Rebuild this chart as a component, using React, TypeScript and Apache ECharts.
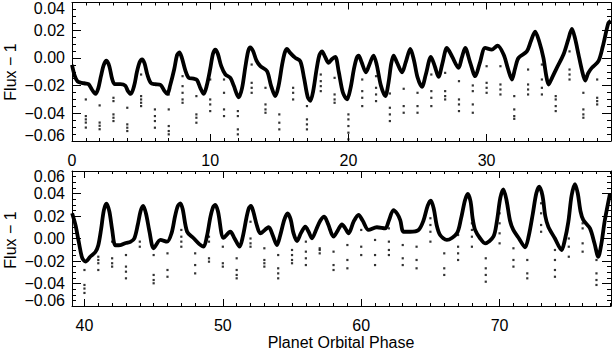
import React, { useEffect, useRef } from "react";
import * as echarts from "echarts";

// ---- Data ----
const topPhase = [0.0, 0.2, 0.4, 0.7, 1.0, 1.2, 1.45, 1.7, 1.9, 2.1, 2.3, 2.5, 2.7, 2.9, 3.1, 3.5, 3.85, 4.05, 4.25, 4.5, 4.7, 4.9, 5.07, 5.25, 5.45, 5.7, 6.0, 6.4, 6.7, 6.9, 7.1, 7.4, 7.6, 7.77, 7.95, 8.2, 8.45, 8.8, 9.05, 9.3, 9.53, 9.75, 10.0, 10.2, 10.37, 10.55, 10.8, 11.1, 11.46, 11.7, 12.06, 12.3, 12.55, 12.75, 12.9, 13.1, 13.35, 13.63, 14.11, 14.4, 14.71, 14.95, 15.2, 15.4, 15.56, 15.75, 16.16, 16.52, 16.8, 17.05, 17.24, 17.45, 17.7, 17.9, 18.09, 18.3, 18.57, 18.8, 19.05, 19.3, 19.6, 19.9, 20.15, 20.4, 20.6, 20.74, 20.95, 21.27, 21.55, 21.82, 22.05, 22.35, 22.67, 22.9, 23.1, 23.27, 23.5, 23.88, 24.15, 24.48, 24.75, 25.0, 25.32, 25.6, 25.97, 26.25, 26.52, 26.8, 27.13, 27.5, 27.97, 28.2, 28.45, 28.8, 29.18, 29.5, 29.9, 30.38, 30.79, 31.23, 31.55, 31.83, 32.05, 32.31, 32.91, 33.2, 33.51, 33.8, 34.11, 34.3, 34.48, 34.75, 35.08, 35.56, 35.9, 36.17, 36.4, 36.65, 36.9, 37.13, 37.35, 37.61, 38.09, 38.4, 38.81, 38.98];
const topFlux = [-0.005, -0.013, -0.017, -0.018, -0.0185, -0.019, -0.023, -0.026, -0.022, -0.013, -0.005, -0.002, -0.006, -0.015, -0.019, -0.019, -0.02, -0.024, -0.026, -0.02, -0.01, -0.003, -0.001, -0.004, -0.012, -0.018, -0.019, -0.0195, -0.024, -0.026, -0.02, -0.008, 0.002, 0.004, 0.0, -0.009, -0.0144, -0.015, -0.016, -0.022, -0.026, -0.02, -0.008, 0.003, 0.006, 0.003, -0.006, -0.012, -0.0144, -0.02, -0.0285, -0.022, -0.006, 0.005, 0.0076, 0.005, -0.002, -0.006, -0.0096, -0.02, -0.0276, -0.02, -0.005, 0.004, 0.0065, 0.004, 0.0, -0.0024, -0.015, -0.028, -0.031, -0.024, -0.008, 0.002, 0.0047, 0.001, -0.0036, -0.001, 0.0007, -0.01, -0.025, -0.03, -0.022, -0.008, 0.0, 0.0017, -0.003, -0.0104, -0.004, 0.0017, -0.005, -0.02, -0.0276, -0.018, -0.004, 0.0017, -0.003, -0.0104, -0.003, 0.0065, -0.002, -0.014, -0.0209, -0.012, 0.0007, -0.006, -0.0137, -0.004, 0.0072, 0.001, -0.0072, 0.0, 0.0072, -0.003, -0.0132, -0.004, 0.0072, 0.006, 0.0088, 0.0024, -0.008, -0.0156, -0.008, 0.0, 0.0047, 0.012, 0.019, 0.012, 0.0, -0.012, -0.0192, -0.014, -0.0072, 0.0024, 0.013, 0.021, 0.014, 0.0024, -0.009, -0.0163, -0.011, -0.0072, -0.0024, 0.008, 0.0252, 0.0268];

const bottomPhase = [39.11, 39.35, 39.59, 39.83, 40.07, 40.43, 40.79, 41.0, 41.2, 41.4, 41.59, 41.8, 42.0, 42.24, 42.6, 43.0, 43.32, 43.6, 43.85, 44.05, 44.24, 44.45, 44.7, 45.0, 45.49, 45.97, 46.3, 46.55, 46.75, 46.93, 47.1, 47.42, 47.89, 48.3, 48.61, 48.85, 49.1, 49.3, 49.46, 49.65, 50.06, 50.54, 50.85, 51.21, 51.45, 51.7, 51.88, 52.03, 52.2, 52.45, 52.71, 53.31, 53.6, 53.91, 54.15, 54.45, 54.68, 54.9, 55.1, 55.36, 55.65, 55.96, 56.2, 56.44, 56.75, 57.05, 57.33, 57.6, 58.0, 58.3, 58.61, 58.85, 59.09, 59.45, 59.81, 60.1, 60.53, 61.13, 61.73, 62.0, 62.33, 62.6, 62.82, 63.06, 63.54, 64.14, 64.5, 64.8, 65.03, 65.25, 65.45, 65.7, 66.19, 66.91, 67.2, 67.5, 67.7, 67.9, 68.05, 68.23, 68.6, 68.95, 69.55, 69.8, 70.05, 70.27, 70.5, 70.75, 70.99, 71.4, 71.84, 72.1, 72.4, 72.65, 72.87, 73.1, 73.3, 73.52, 74.0, 74.48, 74.7, 74.97, 75.2, 75.45, 75.65, 75.85, 76.05, 76.53, 76.85, 77.13, 77.35, 77.6, 77.98];
const bottomFlux = [0.0224, 0.012, -0.003, -0.017, -0.0205, -0.016, -0.012, -0.006, 0.008, 0.025, 0.031, 0.024, 0.008, -0.006, -0.0058, -0.004, -0.003, 0.0, 0.012, 0.024, 0.0289, 0.022, 0.006, -0.0087, -0.0013, -0.0028, 0.005, 0.02, 0.029, 0.0313, 0.026, 0.006, 0.0002, -0.005, -0.0073, 0.002, 0.019, 0.028, 0.0298, 0.024, 0.0005, 0.006, 0.0, -0.0073, 0.002, 0.018, 0.027, 0.0289, 0.024, 0.012, 0.0046, 0.01, 0.003, -0.0058, 0.003, 0.017, 0.0224, 0.017, 0.005, -0.0022, 0.005, 0.0105, 0.006, 0.0002, 0.008, 0.016, 0.0194, 0.013, 0.0016, 0.007, 0.0126, 0.009, 0.0046, 0.015, 0.0209, 0.016, 0.0076, 0.01, 0.009, 0.016, 0.0253, 0.022, 0.0164, 0.006, 0.006, 0.0076, 0.016, 0.029, 0.0336, 0.026, 0.012, 0.0031, -0.0013, 0.0046, 0.017, 0.034, 0.0396, 0.033, 0.018, 0.0076, 0.0, -0.0043, 0.0016, 0.015, 0.036, 0.0437, 0.034, 0.016, 0.0076, 0.0, -0.0078, 0.002, 0.022, 0.04, 0.046, 0.038, 0.02, 0.0105, 0.0, -0.0102, -0.002, 0.015, 0.038, 0.0484, 0.04, 0.024, 0.0164, 0.009, -0.004, -0.0162, -0.005, 0.016, 0.0402];

const topDipPhase = [1, 2, 3, 4, 5, 6, 7, 8, 9, 10, 11, 12, 13, 14, 15, 16, 17, 18, 19, 20, 21, 22, 23, 24, 25, 26, 27, 28, 29, 30, 31, 32, 33, 34, 35, 36, 37, 38];
const topDipFlux = [
  [-0.03, -0.042, -0.0444, -0.0467, -0.0503],
  [-0.0343, -0.0467, -0.049, -0.0515],
  [-0.0288, -0.0312, -0.0408, -0.0432, -0.0456],
  [-0.036, -0.048, -0.0504, -0.0528],
  [-0.012, -0.0276, -0.03, -0.0324, -0.0348],
  [-0.0372, -0.042, -0.0456, -0.0504],
  [-0.0264, -0.0372, -0.0492, -0.0528, -0.0552],
  [-0.0132, -0.0204, -0.0252, -0.03, -0.0324],
  [-0.0276, -0.0408, -0.0432, -0.0468],
  [-0.0156, -0.03, -0.0336, -0.0384],
  [-0.0156, -0.0252, -0.0372, -0.042],
  [-0.0384, -0.042, -0.0516, -0.0552],
  [-0.0048, -0.018, -0.0216, -0.0252],
  [-0.0216, -0.0336, -0.0372, -0.0396],
  [-0.0408, -0.0468, -0.0516],
  [0.001, -0.0216, -0.0252, -0.03],
  [-0.0348, -0.0444, -0.048, -0.0516],
  [-0.012, -0.0168, -0.0204, -0.024],
  [-0.0144, -0.0264, -0.03, -0.0324],
  [-0.0408, -0.0444, -0.0492, -0.054, -0.0588],
  [-0.0156, -0.024, -0.0288, -0.0348],
  [-0.0132, -0.0216, -0.0264, -0.0312],
  [-0.0257, -0.036, -0.0408, -0.0456],
  [-0.0223, -0.0348, -0.0396],
  [-0.0252, -0.0348, -0.0396],
  [-0.012, -0.024, -0.0288, -0.0348],
  [-0.0108, -0.024, -0.0276, -0.03],
  [-0.0168, -0.03, -0.0336, -0.0384],
  [-0.0199, -0.024, -0.0336, -0.0396],
  [-0.006, -0.018, -0.0216, -0.0252],
  [-0.006, -0.0192, -0.0228, -0.0264],
  [-0.0276, -0.0372, -0.042, -0.044],
  [-0.0084, -0.0192, -0.0228, -0.0264],
  [-0.0048, -0.0156, -0.0216, -0.0264],
  [-0.0276, -0.03, -0.0348, -0.0384],
  [0.0047, -0.0084, -0.012, -0.0156],
  [-0.0252, -0.0372, -0.0408, -0.0432],
  [-0.0156, -0.0288, -0.0312, -0.0336],
];

const bottomDipPhase = [40, 41, 42, 43, 44, 45, 46, 47, 48, 49, 50, 51, 52, 53, 54, 55, 56, 57, 58, 59, 60, 61, 62, 63, 64, 65, 66, 67, 68, 69, 70, 71, 72, 73, 74, 75, 76, 77];
const bottomDipFlux = [
  [-0.028, -0.0413, -0.0445, -0.0484],
  [-0.0162, -0.0191, -0.022, -0.028],
  [-0.0028, -0.0176, -0.022, -0.025],
  [-0.0147, -0.025, -0.0295, -0.0354],
  [-0.0028, -0.0073],
  [-0.0147, -0.0324, -0.0369, -0.0398],
  [-0.0132, -0.028, -0.034],
  [0.0076, 0.0016, -0.0028, -0.0073],
  [-0.0132, -0.0236, -0.031],
  [0.0016, -0.0028, -0.0176, -0.0206],
  [-0.0073, -0.022, -0.025],
  [-0.0176, -0.028, -0.0324, -0.0354],
  [0.0149, 0.0, -0.0043, -0.0073],
  [-0.0087, -0.0191, -0.022, -0.025],
  [-0.0147, -0.0265, -0.031, -0.0354],
  [-0.0102, -0.0147, -0.0191, -0.022],
  [-0.0028, -0.0117, -0.0176, -0.0236],
  [-0.0087, -0.0102, -0.0132],
  [-0.0117, -0.0236, -0.028],
  [-0.0058, -0.0191, -0.0265],
  [0.0076, -0.0073, -0.0147],
  [-0.0013, -0.0147, -0.0236],
  [0.009, -0.0028, -0.0102, -0.0147],
  [-0.0058, -0.0176, -0.0236],
  [-0.0073, -0.0191, -0.0265],
  [0.018, 0.012, 0.006, -0.0028],
  [-0.0132, -0.0265, -0.0324],
  [0.0031, -0.0073, -0.0132, -0.0191],
  [0.0135, 0.0076, 0.0016, -0.0073],
  [-0.0176, -0.0265, -0.0324, -0.0384],
  [0.0224, 0.0135, 0.0046, -0.0043],
  [-0.0087, -0.0191, -0.025],
  [-0.0191, -0.031, -0.0354],
  [0.0313, 0.0224, 0.012, 0.006],
  [-0.0102, -0.0191, -0.028, -0.034],
  [0.0194, 0.0, -0.0073, -0.0162],
  [0.0135, 0.009, -0.0043, -0.0117],
  [-0.0191, -0.031, -0.0369, -0.0413],
];

const topXLabels = [0, 10, 20, 30];
const bottomXLabels = [40, 50, 60, 70];
const topYLabels = [-0.06, -0.04, -0.02, 0, 0.02, 0.04];
const bottomYLabels = [-0.06, -0.04, -0.02, 0, 0.02, 0.04, 0.06];
const yTitle = "Flux \u2212 1";
const xTitle = "Planet Orbital Phase";

// ---- Styling ----
const BLACK = "#000";
const FONT = "'Liberation Sans', Arial, Helvetica, sans-serif";

function intRange(a: number, b: number): number[] {
  const out: number[] = [];
  for (let v = a; v <= b; v++) out.push(v);
  return out;
}

function stepRange(a: number, b: number, step: number): number[] {
  const out: number[] = [];
  const n = Math.round((b - a) / step);
  for (let i = 0; i <= n; i++) out.push(Math.round((a + i * step) * 10000) / 10000);
  return out;
}

function fmtY(v: number): string {
  const s = Math.abs(v).toFixed(2);
  return v < -1e-9 ? "\u2212" + s : s;
}

function makeXAxes(gridIndex: number, min: number, max: number, labels: number[], minor: number[]) {
  const base = {
    type: "value",
    gridIndex,
    min,
    max,
    splitLine: { show: false },
    axisLine: { show: true, onZero: false, lineStyle: { color: BLACK, width: 1 } },
  };
  const majorTick = { show: true, inside: true, length: 7, customValues: labels, lineStyle: { color: BLACK, width: 1 } };
  const minorTick = { show: true, inside: true, length: 3, customValues: minor, lineStyle: { color: BLACK, width: 1 } };
  return [
    {
      ...base,
      position: "bottom",
      axisTick: majorTick,
      axisLabel: {
        show: true,
        customValues: labels,
        color: BLACK,
        fontSize: 16,
        fontFamily: FONT,
        margin: 11,
        formatter: (v: number) => String(Math.round(v)),
      },
    },
    { ...base, position: "top", axisTick: majorTick, axisLabel: { show: false } },
    { ...base, position: "bottom", axisLine: { show: false, onZero: false }, axisTick: minorTick, axisLabel: { show: false } },
    { ...base, position: "top", axisLine: { show: false, onZero: false }, axisTick: minorTick, axisLabel: { show: false } },
  ];
}

function makeYAxes(gridIndex: number, min: number, max: number, labels: number[]) {
  const minor = stepRange(min, max, 0.005);
  const base = {
    type: "value",
    gridIndex,
    min,
    max,
    splitLine: { show: false },
    axisLine: { show: true, onZero: false, lineStyle: { color: BLACK, width: 1 } },
  };
  const majorTick = { show: true, inside: true, length: 9, customValues: labels, lineStyle: { color: BLACK, width: 1 } };
  const minorTick = { show: true, inside: true, length: 4, customValues: minor, lineStyle: { color: BLACK, width: 1 } };
  return [
    {
      ...base,
      position: "left",
      axisTick: majorTick,
      axisLabel: {
        show: true,
        customValues: labels,
        showMinLabel: true,
        showMaxLabel: true,
        hideOverlap: false,
        color: BLACK,
        fontSize: 16,
        lineHeight: 11,
        fontFamily: FONT,
        margin: 7,
        formatter: fmtY,
        verticalAlignMinLabel: "bottom",
        verticalAlignMaxLabel: "top",
      },
    },
    { ...base, position: "right", axisTick: majorTick, axisLabel: { show: false } },
    { ...base, position: "left", axisLine: { show: false, onZero: false }, axisTick: minorTick, axisLabel: { show: false } },
    { ...base, position: "right", axisLine: { show: false, onZero: false }, axisTick: minorTick, axisLabel: { show: false } },
  ];
}

function dots(phases: number[], fluxes: number[][]) {
  const out: number[][] = [];
  phases.forEach((p, i) => fluxes[i].forEach((f) => out.push([p, f])));
  return out;
}

export default function App() {
  const ref = useRef<HTMLDivElement>(null);

  useEffect(() => {
    if (!ref.current) return;
    const chart = echarts.init(ref.current, undefined, { renderer: "svg" });
    const topMin = 0, topMax = 39;
    const botMin = 39.1, botMax = 78.05;

    const option: any = {
      animation: false,
      backgroundColor: "#fff",
      grid: [
        { left: 72, right: 1, top: 2, height: 139 },
        { left: 72, right: 1, top: 171, height: 135 },
      ],
      xAxis: [
        ...makeXAxes(0, topMin, topMax, topXLabels, intRange(1, 38)),
        ...makeXAxes(1, botMin, botMax, bottomXLabels, intRange(40, 78)),
      ],
      yAxis: [...makeYAxes(0, -0.06, 0.04, topYLabels), ...makeYAxes(1, -0.06, 0.06, bottomYLabels)],
      graphic: [
        {
          type: "text",
          x: 10,
          y: 72,
          rotation: Math.PI / 2,
          style: { text: yTitle, fill: BLACK, fontSize: 16, fontFamily: FONT, align: "center", verticalAlign: "middle" },
        },
        {
          type: "text",
          x: 10,
          y: 240,
          rotation: Math.PI / 2,
          style: { text: yTitle, fill: BLACK, fontSize: 16, fontFamily: FONT, align: "center", verticalAlign: "middle" },
        },
        {
          type: "text",
          x: 341,
          y: 342,
          style: { text: xTitle, fill: BLACK, fontSize: 16, fontFamily: FONT, align: "center", verticalAlign: "middle" },
        },
      ],
      series: [
        {
          type: "line",
          xAxisIndex: 0,
          yAxisIndex: 0,
          data: topPhase.map((p, i) => [p, topFlux[i]]),
          showSymbol: false,
          smooth: 0.3,
          lineStyle: { color: BLACK, width: 3.8 },
          silent: true,
        },
        {
          type: "scatter",
          xAxisIndex: 0,
          yAxisIndex: 0,
          data: dots(topDipPhase, topDipFlux),
          symbol: "rect",
          symbolSize: 2.2,
          itemStyle: { color: BLACK },
          silent: true,
        },
        {
          type: "line",
          xAxisIndex: 4,
          yAxisIndex: 4,
          data: bottomPhase.map((p, i) => [p, bottomFlux[i]]),
          showSymbol: false,
          smooth: 0.3,
          lineStyle: { color: BLACK, width: 3.8 },
          silent: true,
        },
        {
          type: "scatter",
          xAxisIndex: 4,
          yAxisIndex: 4,
          data: dots(bottomDipPhase, bottomDipFlux),
          symbol: "rect",
          symbolSize: 2.2,
          itemStyle: { color: BLACK },
          silent: true,
        },
      ],
    };
    chart.setOption(option);
    return () => chart.dispose();
  }, []);

  return (
    <div
      ref={ref}
      style={{ position: "fixed", left: 0, top: 0, width: 612, height: 349, background: "#fff" }}
    />
  );
}
